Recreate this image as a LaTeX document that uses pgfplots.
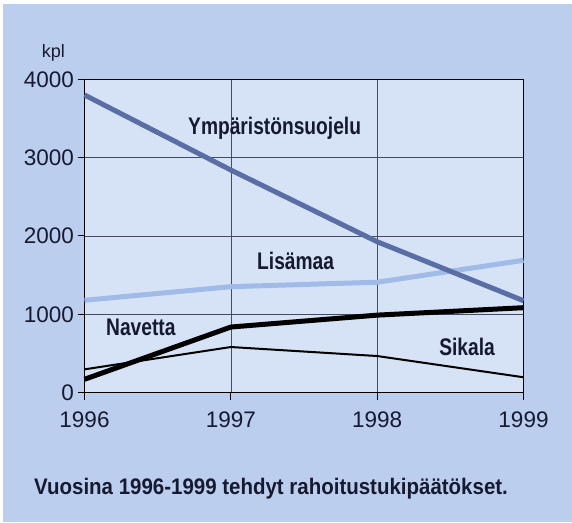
\documentclass[border=0pt]{standalone}
\usepackage{fontspec}
\setmainfont{Liberation Sans}
\newfontfamily\labfont[FakeStretch=0.8]{Liberation Sans}
\newfontfamily\capfont[FakeStretch=0.91]{Liberation Sans}
\usepackage{pgfplots}
\pgfplotsset{compat=1.18}
\definecolor{outerbg}{RGB}{188,206,238}
\definecolor{innerbg}{RGB}{214,227,246}
\definecolor{ympcol}{RGB}{88,110,165}
\definecolor{liscol}{RGB}{160,187,232}
\definecolor{txtcol}{RGB}{22,26,48}
\definecolor{gridcol}{RGB}{70,76,96}
\begin{document}
\begin{tikzpicture}[x=1pt,y=1pt]
\useasboundingbox (0,0) rectangle (572,522);
\fill[white] (0,0) rectangle (572,522);
\fill[outerbg] (3,0) rectangle (572,518);
\begin{axis}[
  at={(84.5pt,129.3pt)}, anchor=south west,
  scale only axis, width=439pt, height=313.4pt,
  xmin=1996, xmax=1999, ymin=0, ymax=4000,
  xtick={1996,1997,1998,1999}, ytick={0,1000,2000,3000,4000},
  xtick pos=bottom, ytick pos=left,
  tick align=outside, major tick length=7pt,
  tick style={black, line width=1pt},
  axis line style={black, line width=1.2pt},
  axis background/.style={fill=innerbg},
  grid=major, major grid style={draw=gridcol, line width=0.6pt},
  scaled y ticks=false,
  /pgf/number format/1000 sep={},
  /pgf/number format/assume math mode=true,
  ticklabel style={font=\fontsize{22.5}{22.5}\selectfont, text=txtcol},
  yticklabel style={inner sep=0pt, xshift=-3.5pt},
  xticklabel style={inner sep=0pt, yshift=-11.5pt},
  clip=false,
]
\addplot[liscol, line width=5pt] coordinates {(1996,1180) (1997,1353) (1998,1410) (1999,1690)};
\addplot[ympcol, line width=5pt] coordinates {(1996,3800) (1997,2842) (1998,1927) (1999,1174)};
\addplot[black, line width=5pt] coordinates {(1996,171) (1997,838) (1998,990) (1999,1085)};
\addplot[black, line width=2pt] coordinates {(1996,298) (1997,583) (1998,468) (1999,197)};
\end{axis}
\node[anchor=base east, inner sep=0pt, text=txtcol, font=\fontsize{18}{18}\selectfont] at (65,464) {kpl};
\begin{scope}[every node/.style={inner sep=0pt, text=txtcol, font=\labfont\bfseries\fontsize{24}{24}\selectfont}]
\node[anchor=base west] at (188,387) {Ympäristönsuojelu};
\node[anchor=base west] at (257,252) {Lisämaa};
\node[anchor=base west] at (106,186) {Navetta};
\node[anchor=base east] at (495,166) {Sikala};
\end{scope}
\node[anchor=base west, inner sep=0pt, text=txtcol, font=\capfont\bfseries\fontsize{22.5}{22.5}\selectfont] at (34,27.5) {Vuosina 1996-1999 tehdyt rahoitustukipäätökset.};
\end{tikzpicture}
\end{document}
